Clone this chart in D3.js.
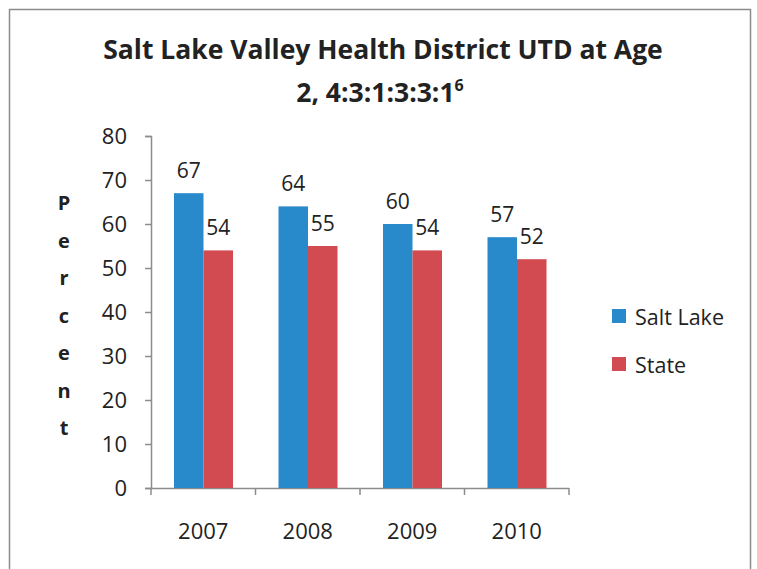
<!DOCTYPE html>
<html>
<head>
<meta charset="utf-8">
<script src="https://cdn.jsdelivr.net/npm/d3@7"></script>
<style>
  body { margin: 0; background: #fff; }
  text { font-family: "Open Sans", "Noto Sans", sans-serif; fill: #222; }
</style>
</head>
<body>
<div id="chart"></div>
<script>
// chart values
const years = ["2007", "2008", "2009", "2010"];
const seriesNames = ["Salt Lake", "State"];
const saltLake = [67, 64, 60, 57];
const state = [54, 55, 54, 52];
const yTicks = [0, 10, 20, 30, 40, 50, 60, 70, 80];
const colors = ["#2889CB", "#D24B50"];

const width = 757, height = 569;
const svg = d3.select("#chart").append("svg")
    .attr("width", width)
    .attr("height", height);

// outer frame (bottom edge is cut off in the original)
svg.append("path")
    .attr("d", "M9.5," + height + " V9.5 H750.5 V" + height)
    .attr("fill", "none")
    .attr("stroke", "#8c8c8c")
    .attr("stroke-width", 1.5);

// title
const title = svg.append("text")
    .attr("text-anchor", "middle")
    .style("font-weight", "bold")
    .style("font-size", "26.5px");
title.append("tspan").attr("x", 383).attr("y", 59)
    .text("Salt Lake Valley Health District UTD at Age");
const line2 = title.append("tspan").attr("x", 380).attr("y", 102);
line2.append("tspan").text("2, 4:3:1:3:3:1");
line2.append("tspan").attr("dy", -11).style("font-size", "16px").text("6");

// scales
const x0 = d3.scaleBand().domain(years).range([151, 569]);
const x1 = d3.scaleBand().domain(seriesNames).range([23, 82]);
const y = d3.scaleLinear().domain([0, 80]).range([488, 136]);

// y axis
const yAxis = svg.append("g")
    .attr("transform", "translate(151,0)")
    .call(d3.axisLeft(y).tickValues(yTicks).tickSize(6).tickPadding(18));
yAxis.selectAll("text").style("font-size", "22px").attr("fill", "#222");

// x axis
const xAxis = svg.append("g")
    .attr("transform", "translate(0,488)")
    .call(d3.axisBottom(x0).tickSize(0).tickPadding(35));
xAxis.selectAll("text").style("font-size", "22px").attr("fill", "#222");
xAxis.selectAll(".tick line").remove();
// category boundary ticks
xAxis.selectAll("line.sep")
    .data(years.map(d => x0(d)).concat([x0.range()[1]]))
    .enter().append("line")
    .attr("class", "sep")
    .attr("x1", d => d).attr("x2", d => d)
    .attr("y1", 0).attr("y2", 7);
svg.selectAll(".domain, .tick line, line.sep")
    .attr("stroke", "#8c8c8c")
    .attr("stroke-width", 1.5);
xAxis.select(".domain").attr("d", "M151,0.5H569");

// bars
const rows = years.map((yr, i) => ({ year: yr, values: [saltLake[i], state[i]] }));
const groups = svg.selectAll("g.grp")
    .data(rows)
    .enter().append("g")
    .attr("class", "grp")
    .attr("transform", d => "translate(" + x0(d.year) + ",0)");

groups.selectAll("rect")
    .data(d => d.values.map((v, j) => ({ name: seriesNames[j], value: v, c: colors[j] })))
    .enter().append("rect")
    .attr("x", d => x1(d.name))
    .attr("width", x1.bandwidth())
    .attr("y", d => y(d.value))
    .attr("height", d => y(0) - y(d.value))
    .attr("fill", d => d.c);

// value labels
groups.selectAll("text.val")
    .data(d => d.values.map((v, j) => ({ name: seriesNames[j], value: v })))
    .enter().append("text")
    .attr("class", "val")
    .attr("text-anchor", "middle")
    .attr("x", d => x1(d.name) + x1.bandwidth() / 2)
    .attr("y", d => y(d.value) - 15)
    .style("font-size", "21px")
    .text(d => d.value);

// y axis title, letters stacked
const letters = "Percent".split("");
svg.selectAll("text.ylab")
    .data(letters)
    .enter().append("text")
    .attr("class", "ylab")
    .attr("text-anchor", "middle")
    .attr("x", 64)
    .attr("y", (d, i) => 210 + i * 37.5)
    .style("font-weight", "bold")
    .style("font-size", "20px")
    .text(d => d);

// legend
const legend = svg.selectAll("g.leg")
    .data(seriesNames)
    .enter().append("g")
    .attr("class", "leg")
    .attr("transform", (d, i) => "translate(612," + (309 + i * 48) + ")");
legend.append("rect")
    .attr("width", 14).attr("height", 14)
    .attr("fill", (d, i) => colors[i]);
legend.append("text")
    .attr("x", 23).attr("y", 16)
    .style("font-size", "21.5px")
    .text(d => d);
</script>
</body>
</html>
